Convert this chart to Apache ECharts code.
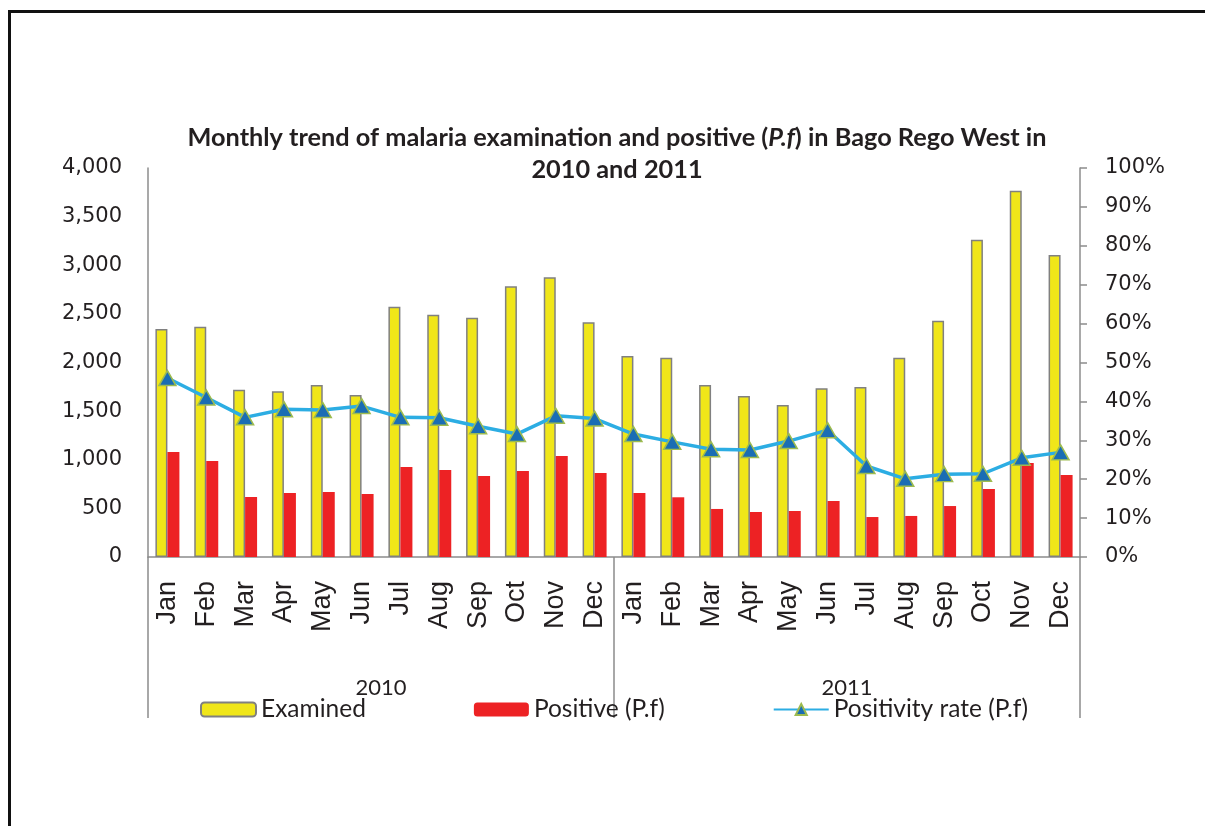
<!DOCTYPE html>
<html>
<head>
<meta charset="utf-8">
<title>Monthly trend of malaria examination</title>
<script src="https://cdn.jsdelivr.net/npm/echarts@6/dist/echarts.min.js"></script>
<style>
  html, body {
    margin: 0;
    padding: 0;
    background: #ffffff;
  }
  #frame {
    position: absolute;
    left: 8px;
    top: 10px;
    width: 1210px;
    height: 830px;
    border-left: 3px solid #111;
    border-top: 3px solid #111;
  }
  #chart {
    position: absolute;
    left: 0;
    top: 0;
    width: 1205px;
    height: 826px;
  }
</style>
</head>
<body>
<div id="frame"></div>
<div id="chart"></div>
<script>
// months shown twice, one group per year
const months = ['Jan', 'Feb', 'Mar', 'Apr', 'May', 'Jun', 'Jul', 'Aug', 'Sep', 'Oct', 'Nov', 'Dec',
  'Jan', 'Feb', 'Mar', 'Apr', 'May', 'Jun', 'Jul', 'Aug', 'Sep', 'Oct', 'Nov', 'Dec']
const years = ['2010', '2011']

const examined = [2345, 2368, 1720, 1704, 1769, 1666, 2574, 2492, 2461, 2783, 2876, 2413,
  2067, 2049, 1769, 1656, 1563, 1735, 1748, 2049, 2430, 3263, 3767, 3105]
const positive = [1080, 987, 617, 658, 668, 648, 925, 895, 833, 884, 1039, 864,
  658, 614, 494, 463, 473, 576, 411, 422, 524, 699, 967, 843]
// percent
const positivityRate = [46.0, 41.0, 35.9, 38.0, 37.8, 38.8, 35.9, 35.8, 33.6, 31.6, 36.3, 35.6,
  31.6, 29.6, 27.7, 27.5, 29.8, 32.6, 23.4, 20.1, 21.3, 21.4, 25.5, 26.9]

const leftTicks = { min: 0, max: 4000, interval: 500 }
const rightTicks = { min: 0, max: 100, interval: 10 }

let chartDom = document.getElementById('chart')
let myChart = echarts.init(chartDom)

let axisGray = '#8c8c8c'
let textDark = '#231f20'

let option = {
  animation: false,
  title: {
    text: 'Monthly trend of malaria examination and positive ({i|P.f}) in Bago Rego West in\n2010 and 2011',
    left: 612,
    textAlign: 'center',
    top: 117,
    textStyle: {
      fontFamily: 'Lato',
      fontWeight: 'bold',
      fontSize: 25.3,
      lineHeight: 32,
      color: textDark,
      rich: {
        i: {
          fontFamily: 'Lato',
          fontWeight: 'bold',
          fontStyle: 'italic',
          fontSize: 25.3,
          lineHeight: 32,
          color: textDark
        }
      }
    }
  },
  legend: {
    left: 195,
    top: 692,
    itemWidth: 55,
    itemHeight: 14,
    itemGap: 108,
    textStyle: {
      fontFamily: 'Lato',
      fontSize: 24.5,
      color: textDark
    },
    data: ['Examined', 'Positive (P.f)', 'Positivity rate (P.f)']
  },
  grid: {
    left: 148,
    right: 125,
    top: 168,
    bottom: 269
  },
  xAxis: [
    {
      type: 'category',
      data: months,
      axisLine: { lineStyle: { color: axisGray, width: 1.5 } },
      axisTick: { show: false },
      axisLabel: {
        interval: 0,
        rotate: 90,
        margin: 24,
        fontFamily: 'Liberation Sans',
        fontSize: 27,
        color: textDark
      }
    },
    {
      type: 'category',
      position: 'bottom',
      data: years,
      axisLine: { show: false },
      axisTick: {
        show: true,
        length: 161,
        lineStyle: { color: axisGray, width: 1.5 }
      },
      axisLabel: {
        margin: 120,
        fontFamily: 'Lato',
        fontSize: 22,
        color: textDark
      }
    }
  ],
  yAxis: [
    {
      type: 'value',
      min: leftTicks.min,
      max: leftTicks.max,
      interval: leftTicks.interval,
      splitLine: { show: false },
      axisLine: { show: true, lineStyle: { color: axisGray, width: 1.5 } },
      axisTick: { show: false },
      axisLabel: {
        margin: 26,
        fontFamily: 'DejaVu Sans',
        fontSize: 21,
        color: textDark,
        formatter: function (value) {
          // show tick with comma
          return (value).toLocaleString('en-US')
        }
      }
    },
    {
      type: 'value',
      min: rightTicks.min,
      max: rightTicks.max,
      interval: rightTicks.interval,
      splitLine: { show: false },
      axisLine: { show: true, lineStyle: { color: axisGray, width: 1.5 } },
      axisTick: { show: true, length: 7, lineStyle: { color: axisGray, width: 1.5 } },
      axisLabel: {
        margin: 25,
        fontFamily: 'DejaVu Sans',
        fontSize: 21,
        color: textDark,
        formatter: '{value}%'
      }
    }
  ],
  series: [
    {
      name: 'Examined',
      type: 'bar',
      xAxisIndex: 0,
      yAxisIndex: 0,
      data: examined,
      barWidth: 12,
      barGap: '0%',
      itemStyle: {
        color: '#f0e619',
        borderColor: '#808080',
        borderWidth: 1.5
      }
    },
    {
      name: 'Positive (P.f)',
      type: 'bar',
      xAxisIndex: 0,
      yAxisIndex: 0,
      data: positive,
      barWidth: 12,
      itemStyle: {
        color: '#ed2224'
      }
    },
    {
      name: 'Positivity rate (P.f)',
      type: 'line',
      xAxisIndex: 0,
      yAxisIndex: 1,
      data: positivityRate,
      symbol: 'triangle',
      symbolSize: [17, 15],
      lineStyle: { color: '#2cade3', width: 3.5 },
      itemStyle: {
        color: '#1a6db4',
        borderColor: '#9dbb4f',
        borderWidth: 1.5
      }
    }
  ]
}
myChart.setOption(option, true)
</script>
</body>
</html>
